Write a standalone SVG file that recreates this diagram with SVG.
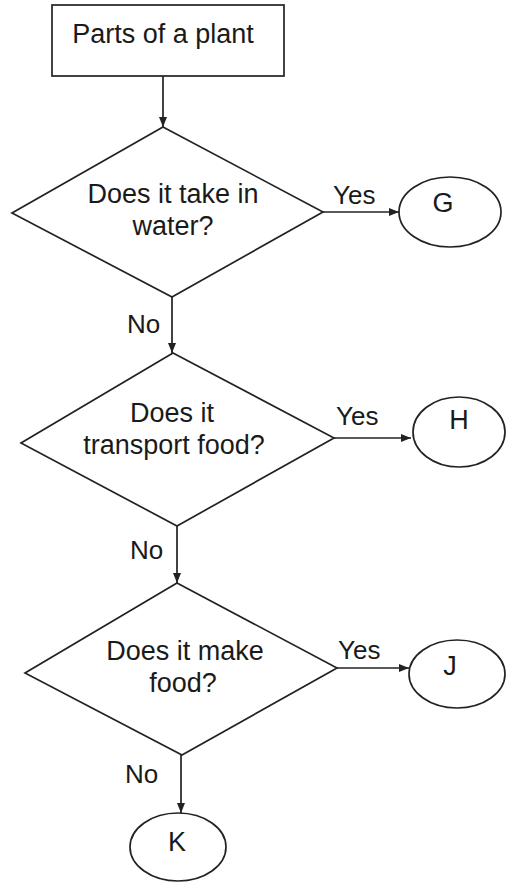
<svg xmlns="http://www.w3.org/2000/svg" width="506" height="882" viewBox="0 0 506 882">
<style>
.s{fill:#fff;stroke:#222;stroke-width:1.7}
.t{font-family:"Liberation Sans",Arial,sans-serif;font-size:27px;fill:#1a1a1a;text-anchor:middle}
.l{font-family:"Liberation Sans",Arial,sans-serif;font-size:26px;fill:#1a1a1a}
.c{fill:none;stroke:#222;stroke-width:1.7}
</style>
<defs>
<marker id="a" markerWidth="10" markerHeight="8" refX="10" refY="4" orient="auto" markerUnits="userSpaceOnUse">
<path d="M0,0 L10,4 L0,8 Z" fill="#222"/>
</marker>
</defs>
<rect width="506" height="882" fill="#fff"/>
<g id="connectors">
<path class="c" d="M163,76 V127" marker-end="url(#a)"/>
<path class="c" d="M323,212 H399" marker-end="url(#a)"/>
<path class="c" d="M172,297 V353" marker-end="url(#a)"/>
<path class="c" d="M334,438 H411" marker-end="url(#a)"/>
<path class="c" d="M177,526 V583" marker-end="url(#a)"/>
<path class="c" d="M337,668 H409" marker-end="url(#a)"/>
<path class="c" d="M181,755 V813" marker-end="url(#a)"/>
<text class="l" x="333" y="204">Yes</text>
<text class="l" x="127" y="333">No</text>
<text class="l" x="336" y="425">Yes</text>
<text class="l" x="130" y="559">No</text>
<text class="l" x="338" y="659">Yes</text>
<text class="l" x="125" y="783">No</text>
</g>
<g id="start">
<rect class="s" x="52" y="5" width="232" height="71"/>
<text class="t" x="163" y="43">Parts of a plant</text>
</g>
<g id="q1">
<polygon class="s" points="163,127 323,212 172,297 12,213"/>
<text class="t" x="173" y="203">Does it take in</text>
<text class="t" x="173" y="235">water?</text>
</g>
<g id="G">
<ellipse class="s" cx="450" cy="212" rx="51" ry="35"/>
<text class="t" x="443" y="212">G</text>
</g>
<g id="q2">
<polygon class="s" points="173,353 334,438 177,526 21,443"/>
<text class="t" x="172" y="422">Does it</text>
<text class="t" x="174" y="454">transport food?</text>
</g>
<g id="H">
<ellipse class="s" cx="459" cy="432" rx="46" ry="35"/>
<text class="t" x="459" y="429">H</text>
</g>
<g id="q3">
<polygon class="s" points="177,583 337,668 182,755 25,673"/>
<text class="t" x="185" y="660">Does it make</text>
<text class="t" x="183" y="692">food?</text>
</g>
<g id="J">
<ellipse class="s" cx="457" cy="674" rx="48" ry="34"/>
<text class="t" x="450" y="675">J</text>
</g>
<g id="K">
<ellipse class="s" cx="178" cy="847" rx="48" ry="34"/>
<text class="t" x="177" y="851">K</text>
</g>
</svg>
